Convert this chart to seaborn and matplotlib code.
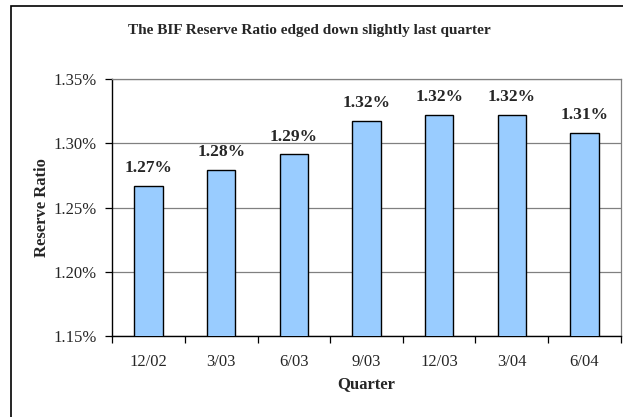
import numpy as np
import pandas as pd
import matplotlib
matplotlib.use("Agg")
import matplotlib.pyplot as plt
import seaborn as sns
from matplotlib.patches import Rectangle
from matplotlib.ticker import FixedLocator, PercentFormatter

quarters = ["12/02", "3/03", "6/03", "9/03", "12/03", "3/04", "6/04"]
ratios = [1.267, 1.2795, 1.2915, 1.3175, 1.3225, 1.3225, 1.308]
bar_labels = ["1.27%", "1.28%", "1.29%", "1.32%", "1.32%", "1.32%", "1.31%"]
yticks = [1.15, 1.20, 1.25, 1.30, 1.35]

df = pd.DataFrame({"Quarter": quarters, "Ratio": ratios})

sns.set_style("white")
plt.rcParams["font.family"] = ["Liberation Serif", "DejaVu Serif"]

fig = plt.figure(figsize=(6.23, 4.17), dpi=100)
ax = fig.add_axes([0.1803, 0.1942, 0.8160, 0.6156])

sns.barplot(data=df, x="Quarter", y="Ratio", color="#99CCFF", edgecolor="black",
            linewidth=1.0, width=0.39, saturation=1, ax=ax, zorder=3)

ax.set_ylim(1.15, 1.35)
ax.set_xlim(-0.5, len(quarters) - 0.5)
ax.set_yticks(yticks)
ax.yaxis.set_major_formatter(PercentFormatter(decimals=2))
ax.yaxis.grid(True, color="#808080", linewidth=0.9, zorder=0)
ax.set_axisbelow(True)

# ticks between categories, labels centered
ax.xaxis.set_minor_locator(FixedLocator(np.arange(-0.5, len(quarters), 1.0)))
ax.tick_params(axis="x", which="major", length=0, labelsize=12, pad=13)
ax.tick_params(axis="x", which="minor", length=5, width=0.9, color="black", direction="out", bottom=True)
ax.tick_params(axis="y", which="major", length=5, width=0.9, color="black", direction="out",
               left=True, labelsize=12, pad=6)

for side in ["left", "bottom"]:
    ax.spines[side].set_color("black")
    ax.spines[side].set_linewidth(1.0)
for side in ["top", "right"]:
    ax.spines[side].set_visible(True)
    ax.spines[side].set_color("#808080")
    ax.spines[side].set_linewidth(0.9)

ax.set_xlabel("Quarter", fontsize=12, fontweight="bold", labelpad=4)
ax.set_ylabel("Reserve Ratio", fontsize=12, fontweight="bold", labelpad=3)

for i, (v, lab) in enumerate(zip(ratios, bar_labels)):
    ax.annotate(lab, (i, v), xytext=(0, 7), textcoords="offset points",
                ha="center", va="bottom", fontsize=12.5, fontweight="bold")

fig.text(0.497, 0.926, "The BIF Reserve Ratio edged down slightly last quarter",
         ha="center", va="center", fontsize=11, fontweight="bold")

# outer chart frame (clipped on right and bottom)
fig.patches.append(Rectangle((11 / 623, -0.1), 1.0, 1.1 - 6 / 417, transform=fig.transFigure,
                             fill=False, edgecolor="black", linewidth=1.2))

fig.savefig("out.png", dpi=100)
